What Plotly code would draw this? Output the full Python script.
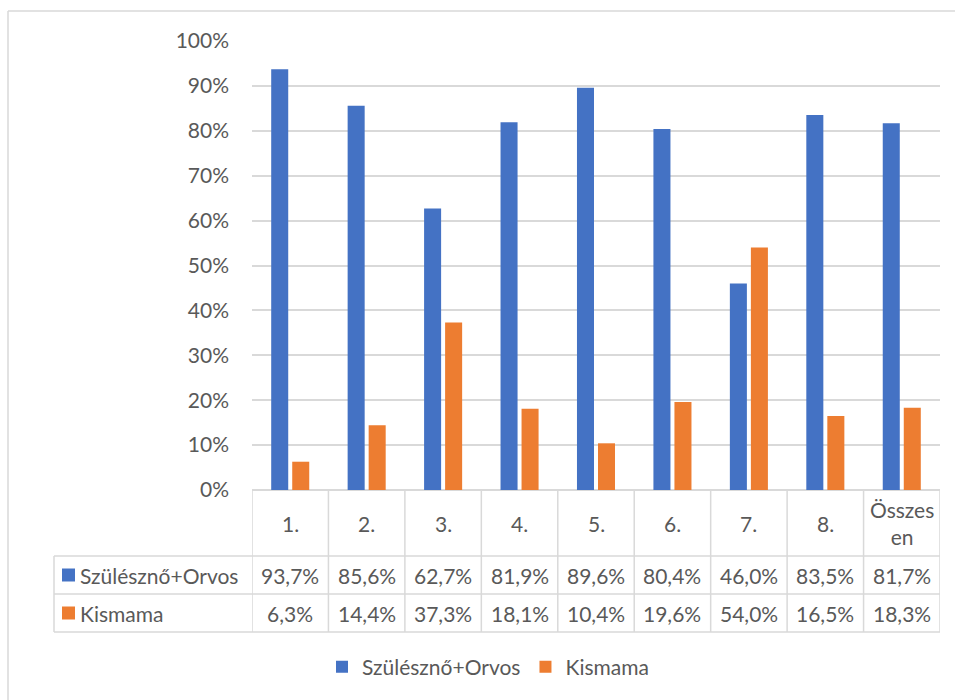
import plotly.graph_objects as go

categories = ["1.", "2.", "3.", "4.", "5.", "6.", "7.", "8.", "Összesen"]
header_labels = ["1.", "2.", "3.", "4.", "5.", "6.", "7.", "8.", "Összes<br>en"]
series_names = ["Szülésznő+Orvos", "Kismama"]
szuleszno_orvos = [93.7, 85.6, 62.7, 81.9, 89.6, 80.4, 46.0, 83.5, 81.7]
kismama = [6.3, 14.4, 37.3, 18.1, 10.4, 19.6, 54.0, 16.5, 18.3]
colors = ["#4472C4", "#ED7D31"]
tick_vals = [0, 10, 20, 30, 40, 50, 60, 70, 80, 90, 100]

W, H = 955, 700
L, R, T, B = 252, 15, 41, 210
PW = W - L - R
PH = H - T - B
TXT = "#595959"
GRID = "#d9d9d9"
FONT = "Lato"
FS = 21

def px(x):
    return (x - L) / PW

def py(y):
    return (H - B - y) / PH

fig = go.Figure()
for name, vals, col in zip(series_names, [szuleszno_orvos, kismama], colors):
    fig.add_trace(go.Bar(x=list(range(len(categories))), y=vals, name=name,
                         marker=dict(color=col, line=dict(width=0))))

shapes = []
annotations = []
n = len(categories)
row_top = py(556)
row_mid = py(594)
row_bot = py(632)
# outer chart border (left & top)
shapes.append(dict(type="line", xref="paper", yref="paper", x0=px(8), x1=px(8), y0=py(11), y1=py(705),
                   line=dict(color=GRID, width=1.5)))
shapes.append(dict(type="line", xref="paper", yref="paper", x0=px(8), x1=px(960), y0=py(11), y1=py(11),
                   line=dict(color=GRID, width=1.5)))
# table vertical lines at category boundaries
for i in range(n + 1):
    shapes.append(dict(type="line", xref="x", yref="paper", x0=i - 0.5, x1=i - 0.5, y0=0, y1=row_bot,
                       line=dict(color=GRID, width=1.5)))
# legend column left edge
shapes.append(dict(type="line", xref="paper", yref="paper", x0=px(54), x1=px(54), y0=row_top, y1=row_bot,
                   line=dict(color=GRID, width=1.5)))
for yy in [row_top, row_mid, row_bot]:
    shapes.append(dict(type="line", xref="paper", yref="paper", x0=px(54), x1=1, y0=yy, y1=yy,
                       line=dict(color=GRID, width=1.5)))
# header labels
for i, lab in enumerate(header_labels):
    annotations.append(dict(x=i, y=py(523), xref="x", yref="paper", text=lab, showarrow=False,
                            font=dict(family=FONT, size=FS, color=TXT), yanchor="middle"))
# values rows
for r, (name, vals, col) in enumerate(zip(series_names, [szuleszno_orvos, kismama], colors)):
    yc = py(575 + 38 * r)
    for i, v in enumerate(vals):
        annotations.append(dict(x=i, y=yc, xref="x", yref="paper",
                                text=f"{v:.1f}%".replace(".", ","), showarrow=False,
                                font=dict(family=FONT, size=FS, color=TXT), yanchor="middle"))
    annotations.append(dict(x=px(78), y=yc, xref="paper", yref="paper", text=name, showarrow=False,
                            xanchor="left", yanchor="middle",
                            font=dict(family=FONT, size=FS, color=TXT)))
    shapes.append(dict(type="rect", xref="paper", yref="paper", x0=px(62), x1=px(75),
                       y0=py(575 + 38 * r - 6.5), y1=py(575 + 38 * r + 6.5),
                       fillcolor=col, line=dict(width=0)))

fig.update_layout(
    width=W, height=H,
    margin=dict(l=L, r=R, t=T, b=B, autoexpand=False),
    paper_bgcolor="white", plot_bgcolor="white",
    barmode="group", bargap=0.45, bargroupgap=0.19,
    font=dict(family=FONT, size=FS, color=TXT),
    xaxis=dict(range=[-0.5, n - 0.5], showticklabels=False, showgrid=False, zeroline=False,
               showline=False, ticks=""),
    yaxis=dict(range=[0, 100], tickvals=tick_vals, ticktext=[f"{v}%" for v in tick_vals],
               showgrid=True, gridcolor=GRID, gridwidth=1.5, zeroline=True, zerolinecolor=GRID,
               zerolinewidth=1.5, showline=False, ticks="", ticklabelstandoff=22,
               tickfont=dict(family=FONT, size=FS, color=TXT)),
    legend=dict(orientation="h", x=px(488), y=py(667), xanchor="center", yanchor="middle",
                font=dict(family=FONT, size=FS, color=TXT), bgcolor="rgba(0,0,0,0)"),
    shapes=shapes, annotations=annotations,
)

fig.write_html("out.html")
